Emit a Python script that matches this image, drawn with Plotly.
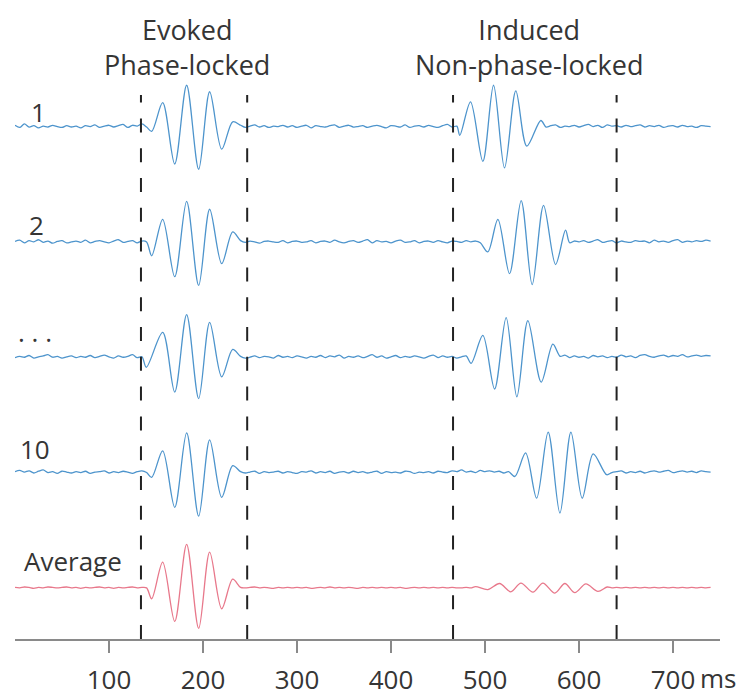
import plotly.graph_objects as go

# ---------------- data (amplitudes in µV, times in ms) ----------------
row_names = ["1", "2", ". . .", "10", "Average"]
tick_vals = [100, 200, 300, 400, 500, 600, 700]
tick_text = ["100", "200", "300", "400", "500", "600", "700"]
unit_tick = [748]
unit_text = ["ms"]
window_lines = [134, 247, 466, 640]
titles = ["Evoked<br>Phase-locked", "Induced<br>Non-phase-locked"]
title_x = [183, 547]

# background activity, one sample every 5 ms from 0 ms
noise_1 = [0.3, -0.2, 0.6, -0.1, 0.2, -0.3, 0.1, -0.1, 0.3, 0.0, -0.2, 0.2, -0.1, 0.1, -0.3,
           0.2, 0.0, 0.4, -0.2, 0.1, 0.3, -0.1, 0.2, 0.5, -0.2, 0.3, 0.1, 0.6, -0.1, 0.2,
           0.3, -0.2, 0.1, 0.2, -0.3, 0.1, 0.4, -0.1, 0.2, 0.0, -0.2, 0.3, -0.1, 0.1, 0.2,
           -0.3, 0.2, 0.0, 0.3, -0.2, 0.1, 0.4, -0.1, 0.2, -0.2, 0.1, 0.0, 0.3, -0.1, 0.2,
           -0.2, 0.1, 0.3, -0.3, 0.2, 0.0, -0.1, 0.2, 0.4, -0.2, 0.1, 0.3, -0.1, 0.0, 0.2,
           -0.2, 0.1, 0.3, 0.0, -0.3, 0.2, 0.1, -0.1, 0.4, -0.2, 0.1, 0.2, -0.1, 0.3, 0.0,
           -0.2, 0.2, 0.5, -0.1, 0.1, -0.3, 0.2, 0.0, 0.3, -0.2, 0.1, 0.4, -0.1, 0.2, -0.2,
           0.1, 0.3, -0.1, 0.2, 0.0, -0.2, 0.3, 0.1, -0.1, 0.2, 0.4, -0.2, 0.1, 0.0, 0.3,
           -0.1, 0.2, 0.5, 0.0, 0.3, -0.2, 0.4, 0.1, 0.2, -0.1, 0.3, 0.0, 0.2, 0.4, -0.1,
           0.2, 0.0, 0.3, -0.2, 0.1, 0.2, -0.1, 0.3, 0.0, 0.1, -0.2, 0.2, 0.1, 0.0]
noise_2 = [0.1, 0.4, -0.2, 0.3, 0.0, 0.5, -0.1, 0.2, -0.3, 0.1, 0.3, -0.2, 0.0, 0.2, -0.1,
           0.4, -0.2, 0.1, 0.3, 0.0, -0.2, 0.2, 0.5, -0.1, 0.1, 0.3, -0.2, 0.2, 0.0, 0.4,
           -0.1, 0.2, 0.1, -0.3, 0.2, 0.0, 0.3, -0.1, 0.1, 0.2, -0.2, 0.3, 0.1, -0.1, 0.2,
           0.0, -0.2, 0.1, 0.3, -0.1, 0.2, 0.0, -0.3, 0.1, 0.2, 0.0, -0.1, 0.3, -0.2, 0.1,
           0.2, -0.1, 0.0, 0.3, -0.2, 0.1, 0.2, -0.1, 0.4, 0.0, -0.2, 0.1, 0.3, -0.1, 0.2,
           0.5, -0.2, 0.3, 0.0, 0.1, -0.2, 0.2, 0.4, -0.1, 0.0, 0.3, -0.2, 0.1, 0.2, -0.1,
           0.3, 0.0, -0.2, 0.2, 0.1, -0.1, 0.3, 0.0, 0.2, -0.2, 0.1, 0.4, -0.1, 0.2, 0.0,
           -0.2, 0.3, 0.1, -0.1, 0.2, 0.0, 0.3, -0.2, 0.1, 0.2, -0.1, 0.4, 0.1, -0.2, 0.2,
           0.0, 0.3, -0.1, 0.2, 0.5, -0.1, 0.1, 0.3, -0.2, 0.2, 0.0, -0.1, 0.3, 0.1, 0.2,
           -0.2, 0.4, 0.0, 0.2, -0.1, 0.3, 0.5, -0.1, 0.2, 0.0, 0.3, 0.1, 0.4, 0.2]
noise_3 = [-0.1, 0.2, 0.0, 0.4, -0.2, 0.1, 0.3, 0.6, 0.0, 0.2, -0.2, 0.1, 0.3, -0.1, 0.2,
           0.0, 0.4, -0.1, 0.2, 0.5, 0.1, -0.2, 0.3, 0.0, 0.2, 0.6, -0.1, 0.1, 0.3, -0.2,
           0.2, 0.0, -0.1, 0.3, 0.1, -0.2, 0.2, 0.0, 0.4, -0.1, 0.1, 0.3, -0.2, 0.2, 0.0,
           -0.1, 0.3, 0.1, 0.2, -0.2, 0.0, 0.3, -0.1, 0.2, 0.1, -0.2, 0.4, 0.0, 0.2, -0.1,
           0.3, 0.1, -0.2, 0.2, 0.0, 0.4, -0.1, 0.3, 0.1, 0.5, -0.2, 0.2, 0.0, 0.3, -0.1,
           0.2, 0.6, 0.0, 0.3, -0.2, 0.1, 0.4, -0.1, 0.2, 0.0, 0.3, 0.1, -0.2, 0.2, 0.5,
           -0.1, 0.3, 0.0, 0.2, -0.2, 0.1, 0.3, -0.1, 0.4, 0.0, 0.2, -0.1, 0.3, 0.1, -0.2,
           0.2, 0.0, 0.3, -0.1, 0.2, 0.4, -0.2, 0.1, 0.3, 0.0, -0.1, 0.2, 0.5, -0.1, 0.3,
           0.0, 0.2, -0.2, 0.4, 0.1, 0.3, -0.1, 0.2, 0.0, 0.5, 0.1, 0.3, -0.1, 0.4, 0.6,
           0.2, 0.0, 0.3, 0.5, 0.1, 0.4, 0.2, 0.6, 0.1, 0.3, 0.5, 0.2, 0.4, 0.3]
noise_10 = [0.2, 0.5, 0.1, 0.4, -0.1, 0.3, 0.6, 0.0, 0.2, -0.2, 0.3, 0.1, -0.1, 0.2, 0.0,
            0.3, -0.2, 0.1, 0.2, 0.4, -0.1, 0.2, 0.0, 0.3, 0.1, -0.2, 0.2, 0.4, 0.0, 0.3,
            -0.1, 0.2, 0.1, 0.4, -0.1, 0.3, 0.0, 0.2, -0.2, 0.1, 0.3, 0.0, -0.1, 0.2, 0.1,
            -0.2, 0.3, 0.0, 0.2, -0.1, 0.1, 0.3, -0.2, 0.2, 0.0, 0.1, 0.3, -0.1, 0.2, 0.0,
            -0.2, 0.2, 0.1, 0.4, -0.1, 0.2, 0.0, 0.3, -0.2, 0.1, 0.2, -0.1, 0.3, 0.0, 0.2,
            -0.1, 0.1, 0.3, -0.2, 0.2, 0.0, 0.1, -0.1, 0.3, 0.2, -0.2, 0.1, 0.0, 0.2, -0.1,
            0.3, 0.1, 0.0, 0.4, 0.2, 0.6, 0.1, 0.3, 0.0, 0.5, 0.2, 0.4, 0.1, 0.3, -0.1,
            0.2, 0.5, 0.0, 0.3, -0.1, 0.2, 0.1, -0.2, 0.2, 0.0, 0.3, -0.1, 0.2, 0.4, 0.1,
            -0.2, 0.2, 0.0, 0.3, 0.1, -0.1, 0.3, 0.0, 0.2, 0.4, -0.1, 0.2, 0.0, 0.3, -0.1,
            0.2, 0.4, 0.1, 0.3, 0.5, 0.0, 0.2, 0.4, 0.1, 0.3, 0.0, 0.4, 0.2, 0.1]
noise_avg = [0.1, 0.0, 0.2, 0.1, -0.1, 0.1, 0.0, 0.2, 0.1, 0.0, 0.1, 0.2, 0.0, 0.1, -0.1,
             0.1, 0.0, 0.1, 0.2, 0.0, 0.1, -0.1, 0.1, 0.0, 0.1, 0.2, 0.0, 0.1, 0.0, 0.1,
             0.0, 0.1, -0.1, 0.1, 0.0, 0.2, 0.0, 0.1, 0.0, -0.1, 0.1, 0.0, 0.1, 0.1, 0.0,
             0.1, -0.1, 0.0, 0.1, 0.0, 0.1, 0.2, 0.0, 0.1, 0.0, -0.1, 0.1, 0.0, 0.1, 0.0,
             0.1, 0.0, 0.1, -0.1, 0.0, 0.1, 0.0, 0.2, 0.0, 0.1, 0.0, 0.1, 0.0, -0.1, 0.1,
             0.0, 0.1, 0.0, 0.1, 0.0, 0.1, 0.0, 0.1, -0.1, 0.0, 0.1, 0.0, 0.1, 0.0, 0.1,
             0.0, 0.1, 0.0, 0.1, 0.0, 0.0, 0.1, 0.0, 0.1, 0.0, 0.1, 0.0, 0.1, 0.0, 0.0,
             0.1, 0.0, 0.1, 0.0, 0.1, 0.0, 0.1, 0.0, 0.1, 0.0, 0.1, 0.0, 0.1, 0.0, 0.1,
             0.0, 0.1, 0.0, 0.1, -0.1, 0.0, 0.1, 0.0, 0.1, 0.0, 0.1, 0.0, 0.1, 0.0, 0.1,
             0.0, 0.1, 0.0, 0.1, 0.0, 0.1, 0.0, 0.1, 0.0, 0.1, 0.0, 0.1, 0.0, 0.1]

# evoked burst extrema (same latency on every trial)
evoked_t = [145.4, 157.1, 169.9, 182.6, 195.4, 207.1, 219.9, 231.6]
evoked_t_3 = [139.7, 157.1, 169.9, 182.6, 195.4, 207.1, 219.9, 231.6]
evoked_1 = [-1.1, 5.5, -8.6, 9.5, -9.8, 8.0, -5.2, 1.1]
evoked_2 = [-3.2, 5.2, -8.0, 9.3, -10.0, 7.5, -5.0, 2.3]
evoked_3 = [-2.3, 5.7, -8.0, 9.8, -9.5, 8.0, -4.5, 1.8]
evoked_10 = [-1.1, 5.0, -8.0, 9.1, -10.0, 7.5, -5.7, 1.6]
evoked_avg = [-2.5, 5.9, -7.7, 10.0, -9.3, 8.2, -4.8, 2.0]

# induced burst extrema (latency jitters from trial to trial)
induced_t_1 = [473.2, 484.6, 497.7, 509.1, 520.8, 532.8, 544.5, 559.4]
induced_1 = [-2.0, 5.7, -8.0, 9.5, -9.5, 8.2, -4.5, 1.4]
induced_t_2 = [503.0, 513.7, 526.1, 538.5, 550.2, 562.3, 575.1, 585.7]
induced_2 = [-2.3, 5.2, -7.3, 9.5, -9.8, 8.4, -5.2, 2.7]
induced_t_3 = [485.3, 497.7, 510.2, 522.5, 533.9, 545.6, 559.8, 572.2]
induced_3 = [-1.4, 5.0, -7.3, 9.1, -9.1, 8.4, -5.7, 3.0]
induced_t_10 = [531.8, 543.2, 554.9, 567.2, 579.7, 591.4, 603.4, 615.1, 629.4]
induced_10 = [-0.9, 4.5, -5.9, 9.3, -9.3, 9.3, -5.9, 4.3, -0.5]
induced_t_avg = [490, 503, 515.5, 527.5, 538.2, 551, 561.6, 574.3, 585, 595.6, 607.3, 620.1, 630]
induced_avg = [0.3, -0.4, 1.0, -0.9, 1.1, -1.0, 1.1, -1.2, 1.0, -1.1, 0.9, -0.8, 0.2]

# ---------------- build ----------------
NOISE_STEP = 5


def build(noise, bursts):
    pts = []
    for i, v in enumerate(noise):
        t = i * NOISE_STEP
        if any(bt[0] - 3 <= t <= bt[-1] + 4 for bt, _ in bursts):
            continue
        pts.append((t, v))
    for bt, bv in bursts:
        pts.extend(zip(bt, bv))
    pts.sort()
    return [p[0] for p in pts], [p[1] for p in pts]


series = [
    (noise_1, [(evoked_t, evoked_1), (induced_t_1, induced_1)]),
    (noise_2, [(evoked_t, evoked_2), (induced_t_2, induced_2)]),
    (noise_3, [(evoked_t_3, evoked_3), (induced_t_3, induced_3)]),
    (noise_10, [(evoked_t, evoked_10), (induced_t_10, induced_10)]),
    (noise_avg, [(evoked_t, evoked_avg), (induced_t_avg, induced_avg)]),
]

ROW_STEP = 26.5
offsets = [ROW_STEP * k for k in (4, 3, 2, 1, 0)]
colors = ["#4d94cc"] * 4 + ["#e8788b"]
Y_MIN, Y_MAX = -11.75, 133.25
DASH_TOP = 113.25
TXT = "#353535"
FONT = "Open Sans"
TICK_FONT = dict(family=FONT, size=26, color=TXT)

fig = go.Figure()
for (noise, bursts), off, col in zip(series, offsets, colors):
    xs, ys = build(noise, bursts)
    fig.add_trace(go.Scatter(
        x=xs, y=[v + off for v in ys], mode="lines",
        line=dict(color=col, width=1.3, shape="spline", smoothing=0.9),
        hoverinfo="skip", showlegend=False))
# empty trace that carries the unit axis
fig.add_trace(go.Scatter(x=[], y=[], xaxis="x2", yaxis="y", showlegend=False,
                         hoverinfo="skip"))

for xv in window_lines:
    fig.add_shape(type="line", xref="x", yref="y", x0=xv, x1=xv, y0=Y_MIN, y1=DASH_TOP,
                  line=dict(color="#222222", width=2, dash="14px,15.8px"))

# row labels
label_pos = [(15, -5), (12.5, -3), (1, 5), (3, 4), (7, 7)]
for name, off, (lx, ys) in zip(row_names, offsets, label_pos):
    fig.add_annotation(x=lx, y=off, xref="x", yref="y", text=name, showarrow=False,
                       xanchor="left", yanchor="bottom", yshift=ys,
                       font=dict(family=FONT, size=26, color=TXT))

for tx, tt in zip(title_x, titles):
    fig.add_annotation(x=tx, y=1.0, xref="x", yref="paper", text=tt, showarrow=False,
                       xanchor="center", yanchor="top", yshift=-1,
                       font=dict(family=FONT, size=27, color=TXT))

# the page body adds an 8 px margin, so the figure is 8 px smaller each way
fig.update_layout(
    width=738, height=689,
    margin=dict(l=7, r=26, t=0, b=51),
    paper_bgcolor="white", plot_bgcolor="white",
    showlegend=False,
    xaxis=dict(range=[0, 750], showline=True, linecolor="#8a8a8a", linewidth=1.5,
               ticks="outside", ticklen=12, tickwidth=1.5, tickcolor="#8a8a8a",
               tickvals=tick_vals, ticktext=tick_text, showgrid=False, zeroline=False,
               ticklabelstandoff=5, tickfont=TICK_FONT),
    xaxis2=dict(range=[0, 750], overlaying="x", anchor="y", side="bottom",
                showline=False, ticks="outside", ticklen=12, tickwidth=1.5,
                tickcolor="rgba(0,0,0,0)", tickvals=unit_tick, ticktext=unit_text,
                showgrid=False, zeroline=False, ticklabelstandoff=5, tickfont=TICK_FONT),
    yaxis=dict(visible=False, range=[Y_MIN, Y_MAX]),
)

fig.write_html("out.html")
